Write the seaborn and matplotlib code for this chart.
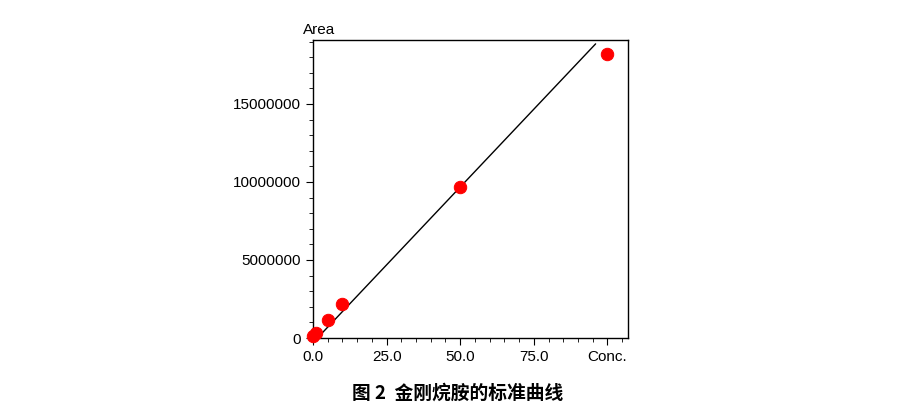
import matplotlib
matplotlib.use("Agg")
import matplotlib.pyplot as plt
import seaborn as sns
import numpy as np
from matplotlib.ticker import MultipleLocator

conc = [0.0, 1.0, 5.0, 10.0, 50.0, 100.0]
area = [150000, 300000, 1150000, 2200000, 9650000, 18200000]
line_x = [1.5, 96.0]
slope, intercept = 199500.0, -300000.0
xticks = [0, 25, 50, 75, 100]
xticklabels = ["0.0", "25.0", "50.0", "75.0", "Conc."]
yticks = [0, 5000000, 10000000, 15000000]

sns.set_style("ticks")
plt.rcParams['font.family'] = ['Liberation Sans', 'DejaVu Sans']
fig = plt.figure(figsize=(9.05, 4.04), dpi=100)
ax = fig.add_axes([313/905, 1-338/404, 315/905, 298/404])
lx = np.array(line_x)
ax.plot(lx, slope*lx+intercept, color="black", lw=1)
sns.scatterplot(x=conc, y=area, color="#ff0000", s=80, edgecolor="#ff0000", ax=ax, zorder=3, clip_on=False)
ax.set_xlim(0, 107)
ax.set_ylim(0, 19100000)
ax.set_xticks(xticks)
ax.set_xticklabels(xticklabels, fontsize=11)
ax.set_yticks(yticks)
ax.set_yticklabels([str(v) for v in yticks], fontsize=11)
ax.xaxis.set_minor_locator(MultipleLocator(5))
ax.yaxis.set_minor_locator(MultipleLocator(1000000))
ax.tick_params(which="major", length=5, color="black", labelcolor="black")
ax.tick_params(which="minor", length=3, color="black")
for s in ax.spines.values():
    s.set_visible(True); s.set_color("black"); s.set_linewidth(1)
fig.text(303/905, 1-30/404, "Area", fontsize=11, va="center", color="black")
fig.text(458/905, 1-393/404, "图 2  金刚烷胺的标准曲线", fontsize=13.5, fontweight="bold",
         ha="center", va="center", color="black", family=['Noto Sans CJK SC', 'DejaVu Sans'])
fig.savefig("out.png", dpi=100)
